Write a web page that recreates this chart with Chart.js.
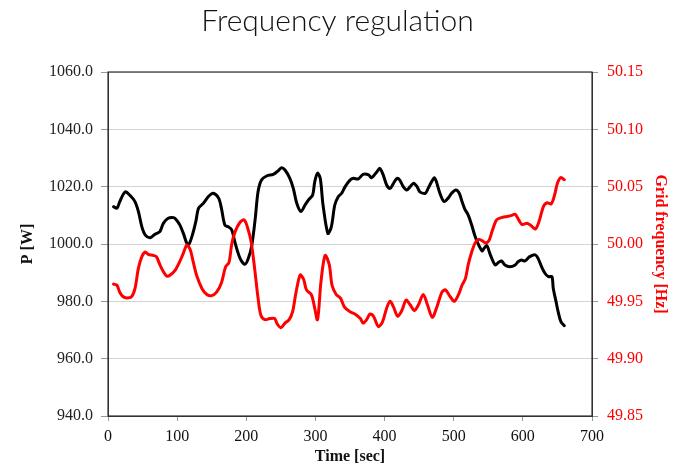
<!DOCTYPE html>
<html>
<head>
<meta charset="utf-8">
<title>Frequency regulation</title>
<script src="https://cdn.jsdelivr.net/npm/chart.js@4.4.1/dist/chart.umd.min.js"></script>
<style>
  html, body { margin: 0; padding: 0; background: #fff; }
  #wrap { width: 675px; height: 468px; }
</style>
</head>
<body>
<div id="wrap"><canvas id="freqChart" width="675" height="468"></canvas></div>
<script>
// Active power of the unit (black, left axis)
const timeP = [8,13,17,25,32,39,44,49,54,61,68,75,80,87,95,99,104,109,114,117,122,127,131,138,145,152,160,164,169,174,179,184,191,198,203,208,213,217,222,230,239,246,251,256,263,268,273,279,285,290,296,299,303,307,311,318,323,328,333,338,343,350,355,362,369,377,381,389,393,398,403,408,413,418,422,427,432,437,442,447,451,459,463,468,472,475,480,486,492,497,503,508,512,516,521,526,531,536,541,544,548,553,560,565,569,574,581,589,593,598,603,610,618,622,627,632,637,642,644,648,651,655,660];
const powerW = [1013.0,1012.5,1014.8,1018.2,1016.9,1014.8,1011.3,1006.0,1003.1,1002.2,1003.4,1004.3,1007.2,1009.0,1009.2,1008.4,1006.6,1003.7,1000.2,999.9,1003.1,1007.8,1012.5,1014.2,1016.5,1017.7,1016.0,1012.5,1006.6,1006.0,1004.9,1000.2,995.0,992.9,995.0,999.6,1009.0,1018.2,1022.3,1023.8,1024.3,1025.5,1026.6,1025.8,1022.9,1019.4,1014.2,1011.3,1013.6,1015.4,1017.1,1021.7,1024.7,1022.9,1013.6,1003.7,1006.0,1013.6,1016.5,1017.7,1020.0,1022.3,1022.9,1022.7,1024.3,1024.1,1023.1,1025.2,1026.4,1024.1,1020.6,1019.4,1021.2,1022.9,1022.3,1020.0,1018.8,1020.0,1021.2,1020.0,1018.2,1017.7,1019.4,1021.7,1023.1,1021.7,1017.7,1014.8,1016.0,1017.7,1018.8,1017.7,1014.8,1012.2,1010.1,1006.6,1002.6,999.7,997.6,998.5,999.4,996.2,992.7,993.6,994.1,992.7,992.1,992.7,993.8,994.4,994.1,995.6,996.2,995.0,992.1,989.8,988.6,988.6,984.5,979.9,976.4,972.9,971.5];

// Grid frequency (red, right axis)
const timeF = [8,13,17,22,27,34,39,44,49,54,58,66,70,75,80,85,90,97,104,109,114,119,123,128,136,143,150,157,164,170,175,179,184,191,197,202,207,212,217,221,227,234,241,245,250,256,262,267,272,278,283,287,294,298,303,308,314,320,324,330,336,342,350,357,365,369,374,379,384,391,397,403,408,413,419,425,431,437,443,449,456,462,469,475,483,488,495,501,507,512,517,521,526,531,536,541,546,551,556,562,569,577,584,589,594,599,606,612,618,623,630,635,641,646,650,655,660];
const freqHz = [49.965,49.964,49.958,49.954,49.953,49.954,49.961,49.979,49.989,49.993,49.991,49.990,49.989,49.982,49.976,49.972,49.973,49.977,49.985,49.992,49.999,49.995,49.985,49.973,49.961,49.956,49.955,49.958,49.966,49.980,49.984,50.000,50.011,50.019,50.021,50.014,50.002,49.979,49.953,49.938,49.934,49.935,49.935,49.930,49.927,49.931,49.934,49.941,49.958,49.973,49.969,49.960,49.956,49.947,49.934,49.967,49.990,49.982,49.964,49.956,49.953,49.945,49.941,49.939,49.935,49.931,49.934,49.939,49.937,49.928,49.932,49.944,49.950,49.945,49.937,49.942,49.951,49.947,49.942,49.947,49.956,49.947,49.936,49.944,49.958,49.960,49.954,49.950,49.956,49.964,49.970,49.982,49.993,50.001,50.004,50.003,50.001,50.003,50.012,50.021,50.023,50.024,50.025,50.026,50.021,50.017,50.018,50.016,50.013,50.019,50.033,50.036,50.035,50.043,50.053,50.058,50.056];

// Axis tick values
const timeTicks = [0,100,200,300,400,500,600,700];
const powerTicks = [940,960,980,1000,1020,1040,1060];
const freqTicks = [49.85,49.90,49.95,50.00,50.05,50.10,50.15];

const serif = "'Liberation Serif', 'Times New Roman', serif";
const red = "#ff0000";

function toPoints(xs, ys) {
  return xs.map((x, i) => ({ x: x, y: ys[i] }));
}

function useTicks(values) {
  return function (scale) {
    scale.ticks = values.map(v => ({ value: v }));
  };
}

// frame around the plot area
const plotFrame = {
  id: "plotFrame",
  beforeDatasetsDraw(chart) {
    const a = chart.chartArea;
    const ctx = chart.ctx;
    ctx.save();
    ctx.strokeStyle = "#333";
    ctx.lineWidth = 1.2;
    ctx.strokeRect(a.left, a.top, a.right - a.left, a.bottom - a.top);
    ctx.restore();
  }
};

new Chart(document.getElementById("freqChart"), {
  type: "line",
  data: {
    datasets: [
      {
        label: "P [W]",
        data: toPoints(timeP, powerW),
        yAxisID: "yP",
        borderColor: "#000",
        borderWidth: 3,
        pointRadius: 0,
        tension: 0.3,
        borderCapStyle: "round",
        borderJoinStyle: "round",
        order: 2
      },
      {
        label: "Grid frequency [Hz]",
        data: toPoints(timeF, freqHz),
        yAxisID: "yF",
        borderColor: red,
        borderWidth: 3,
        pointRadius: 0,
        tension: 0.3,
        borderCapStyle: "round",
        borderJoinStyle: "round",
        order: 1
      }
    ]
  },
  options: {
    responsive: false,
    animation: false,
    layout: { padding: 0 },
    plugins: {
      legend: { display: false },
      tooltip: { enabled: false },
      title: {
        display: true,
        text: "Frequency regulation",
        color: "#111",
        font: { family: "Lato, 'Open Sans', sans-serif", size: 30, weight: 300 },
        padding: { top: 3, bottom: 33 }
      }
    },
    scales: {
      x: {
        type: "linear",
        min: 0,
        max: 700,
        afterBuildTicks: useTicks(timeTicks),
        afterFit(scale) { scale.height = 52; },
        grid: { drawOnChartArea: false, tickLength: 5, tickColor: "#999" },
        border: { color: "#333" },
        ticks: {
          padding: 6,
          color: "#111",
          font: { family: serif, size: 16 },
          maxRotation: 0,
          callback: v => String(v)
        },
        title: {
          display: true,
          text: "Time [sec]",
          color: "#111",
          font: { family: serif, size: 16, weight: "bold" },
          padding: { top: 0, bottom: 2 }
        }
      },
      yP: {
        position: "left",
        min: 940,
        max: 1060,
        afterBuildTicks: useTicks(powerTicks),
        afterFit(scale) { scale.width = 108; },
        grid: { color: "#d4d4d4", tickColor: "#999", tickLength: 7 },
        border: { color: "#333" },
        ticks: {
          padding: 8,
          color: "#222",
          font: { family: serif, size: 16 },
          callback: v => Number(v).toFixed(1)
        },
        title: {
          display: true,
          text: "P [W]",
          color: "#111",
          font: { family: serif, size: 16, weight: "bold" },
          padding: { top: 18, bottom: 0 }
        }
      },
      yF: {
        position: "right",
        min: 49.85,
        max: 50.15,
        afterBuildTicks: useTicks(freqTicks),
        afterFit(scale) { scale.width = 83; },
        grid: { drawOnChartArea: false, tickColor: "#999", tickLength: 6 },
        border: { color: "#333" },
        ticks: {
          padding: 9,
          color: red,
          font: { family: serif, size: 16 },
          callback: v => Number(v).toFixed(2)
        },
        title: {
          display: true,
          text: "Grid frequency [Hz]",
          color: red,
          font: { family: serif, size: 16, weight: "bold" },
          padding: { top: 5, bottom: 0 }
        }
      }
    }
  },
  plugins: [plotFrame]
});
</script>
</body>
</html>
